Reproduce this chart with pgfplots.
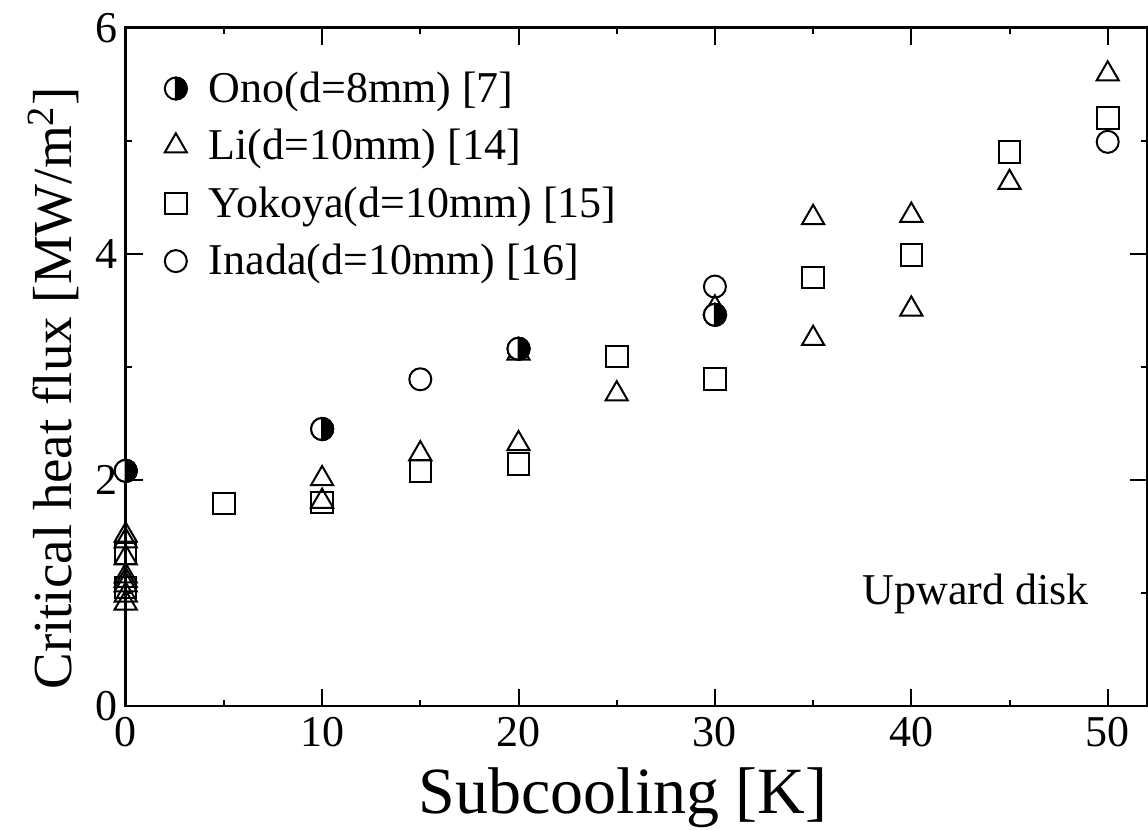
\documentclass[border=0pt]{standalone}
\usepackage{pgfplots}
\pgfplotsset{compat=1.18}
\usepackage{pgfplotstable}
\usepackage{fontspec}
\setmainfont{Liberation Serif}

\pgfdeclareplotmark{halfcirc}{%
  \pgfscope
  \pgfpathcircle{\pgfpointorigin}{\pgfplotmarksize}%
  \pgfsetfillcolor{white}\pgfusepathqfillstroke
  \pgfpathmoveto{\pgfqpoint{0pt}{\pgfplotmarksize}}%
  \pgfpatharc{90}{-90}{\pgfplotmarksize}%
  \pgfpathclose
  \pgfsetfillcolor{black}\pgfusepathqfillstroke
  \endpgfscope
}

\pgfplotstableread{
x y
0 1.51
0 1.46
0 1.31
0 1.15
0 1.11
0 1.07
0 0.98
0 0.91
10 2.01
10 1.81
15 2.23
20 3.12
20 2.32
25 2.76
30 3.52
35 4.32
35 3.25
40 4.34
40 3.51
45 4.63
50 5.59
}\li

\pgfplotstableread{
x y
0 1.35
0 1.05
5 1.79
10 1.80
15 2.08
20 2.14
25 3.09
30 2.89
35 3.79
40 3.99
45 4.90
50 5.20
}\yokoya

\pgfplotstableread{
x y
15 2.89
30 3.71
50 4.99
}\inada

\pgfplotstableread{
x y
0 2.08
10 2.45
20 3.16
30 3.46
}\ono

\begin{document}
\begin{tikzpicture}
\begin{axis}[
  name=ax,
  at={(0,0)}, anchor=south west,
  scale only axis, width=510.7pt, height=339.2pt,
  xmin=0, xmax=52, ymin=0, ymax=6,
  xtick={0,10,20,30,40,50}, ytick={0,2,4,6},
  minor xtick={5,15,25,35,45}, minor ytick={1,3,5},
  tick align=inside, major tick length=8.5pt, minor tick length=3pt,
  every tick/.style={black, line width=1pt},
  axis line style={line width=1.3pt},
  /pgf/number format/assume math mode=true,
  tick label style={font=\fontsize{22}{26}\selectfont},
  xticklabel style={anchor=north, inner sep=0pt, yshift=-5.5pt},
  yticklabel style={anchor=east, inner sep=0pt, xshift=-4pt},
  xlabel={Subcooling [K]},
  ylabel={Critical heat flux [MW/m\textsuperscript{2}]},
  xlabel style={font=\fontsize{33}{38}\selectfont, at={(axis description cs:0.487,-0.159)}, anchor=base, inner sep=0pt},
  ylabel style={font=\fontsize{27.5}{32}\selectfont, at={(axis description cs:-0.0526,0.468)}, anchor=base, inner sep=0pt},
  legend style={draw=none, fill=none, at={(axis description cs:0.035,0.94)}, anchor=north west,
    font=\fontsize{22}{26}\selectfont, row sep=9pt, inner sep=0pt,
    nodes={inner sep=1.5pt}},
  legend cell align=left,
  legend image code/.code={\path[draw=none,fill=none] (0pt,-7pt) rectangle (22pt,7pt); \draw[#1] plot coordinates {(7pt,0pt)};},
  clip=false,
]
\addplot[only marks, mark=halfcirc, mark size=5.5pt, line width=1pt, black] table {\ono};
\addlegendentry{Ono(d=8mm) [7]}
\addplot[only marks, mark=triangle, mark size=6.4pt, line width=1pt, black] table {\li};
\addlegendentry{Li(d=10mm) [14]}
\addplot[only marks, mark=square, mark size=5.4pt, line width=1pt, black] table {\yokoya};
\addlegendentry{Yokoya(d=10mm) [15]}
\addplot[only marks, mark=o, mark size=5.5pt, line width=1pt, black] table {\inada};
\addlegendentry{Inada(d=10mm) [16]}
% Ono on top
\addplot[only marks, mark=halfcirc, mark size=5.5pt, line width=1pt, black, forget plot] table {\ono};
\node[anchor=base east, font=\fontsize{22}{26}\selectfont] at (axis cs:49.4,0.9) {Upward disk};
\end{axis}
\pgfresetboundingbox
\path ([shift={(-62.85pt,-61.5pt)}]ax.south west) rectangle ([shift={(0.5pt,13.85pt)}]ax.north east);
\end{tikzpicture}
\end{document}
